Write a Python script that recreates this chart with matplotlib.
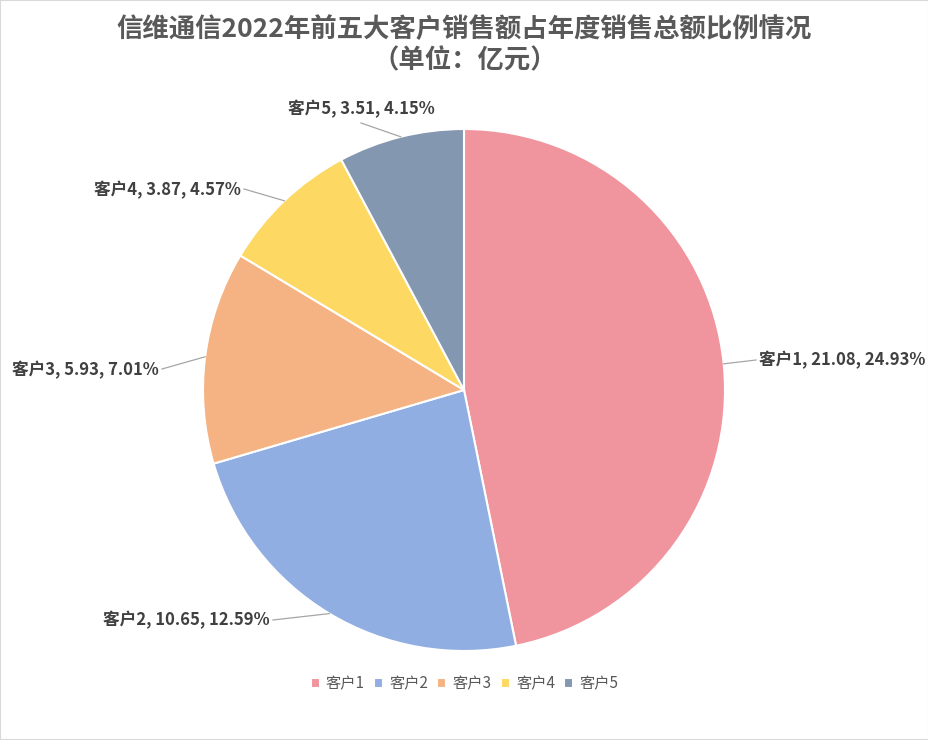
import numpy as np
import matplotlib.pyplot as plt
from matplotlib.patches import Rectangle

plt.rcParams['font.family'] = ['Noto Sans CJK SC', 'DejaVu Sans']

# 数据
customers = ['客户1', '客户2', '客户3', '客户4', '客户5']
sales = [21.08, 10.65, 5.93, 3.87, 3.51]
share_pct = [24.93, 12.59, 7.01, 4.57, 4.15]
colors = ['#F0959E', '#91AEE2', '#F5B383', '#FDD863', '#8497B0']

W, H = 929, 740
cx, cy, R = 464, 390, 261  # 饼图中心和半径 (像素)

fig = plt.figure(figsize=(W / 100, H / 100), dpi=100)
fig.patches.append(Rectangle((0, 0), 1, 1, transform=fig.transFigure,
                             fill=False, edgecolor='#D9D9D9', linewidth=1.5))

ax = fig.add_axes([(cx - R) / W, (H - cy - R) / H, 2 * R / W, 2 * R / H])
wedges, _ = ax.pie(sales, colors=colors, startangle=90, counterclock=False,
                   radius=1, wedgeprops=dict(edgecolor='white', linewidth=1.5))
ax.set_xlim(-1, 1)
ax.set_ylim(-1, 1)
ax.set_aspect('equal')
ax.axis('off')


def px(x, y):
    return (x - cx) / R, (cy - y) / R


# 标签位置 (像素): 线端点, 文字位置, 对齐
label_pos = [
    ((756, 360), (759, 360), 'left', 'center'),
    ((273, 620), (270, 620), 'right', 'center'),
    ((162, 369), (159, 370), 'right', 'center'),
    ((244, 189), (241, 190), 'right', 'center'),
    ((361, 123), (361, 118), 'center', 'bottom'),
]

for w, name, v, p, (le, tp, ha, va) in zip(wedges, customers, sales, share_pct, label_pos):
    ang = np.deg2rad((w.theta1 + w.theta2) / 2)
    ex, ey = np.cos(ang), np.sin(ang)
    lx, ly = px(*le)
    ax.plot([ex, lx], [ey, ly], color='#A6A6A6', linewidth=0.9, clip_on=False)
    tx, ty = px(*tp)
    ax.text(tx, ty, f'{name}, {v:.2f}, {p:.2f}%', ha=ha, va=va,
            fontsize=12, fontweight='bold', color='#404040')

fig.text(0.5, 1 - 29 / H, '信维通信2022年前五大客户销售额占年度销售总额比例情况',
         ha='center', va='center', fontsize=19, fontweight='bold', color='#595959')
fig.text(0.5, 1 - 61 / H, '（单位：亿元）',
         ha='center', va='center', fontsize=19, fontweight='bold', color='#595959')

fig.legend(wedges, customers, loc='center', bbox_to_anchor=(0.5, 1 - 684 / H),
           ncol=5, frameon=False, fontsize=11, labelcolor='#595959',
           handlelength=0.6, handleheight=0.6, handletextpad=0.4, columnspacing=0.6)

fig.savefig('out.png', dpi=100)
